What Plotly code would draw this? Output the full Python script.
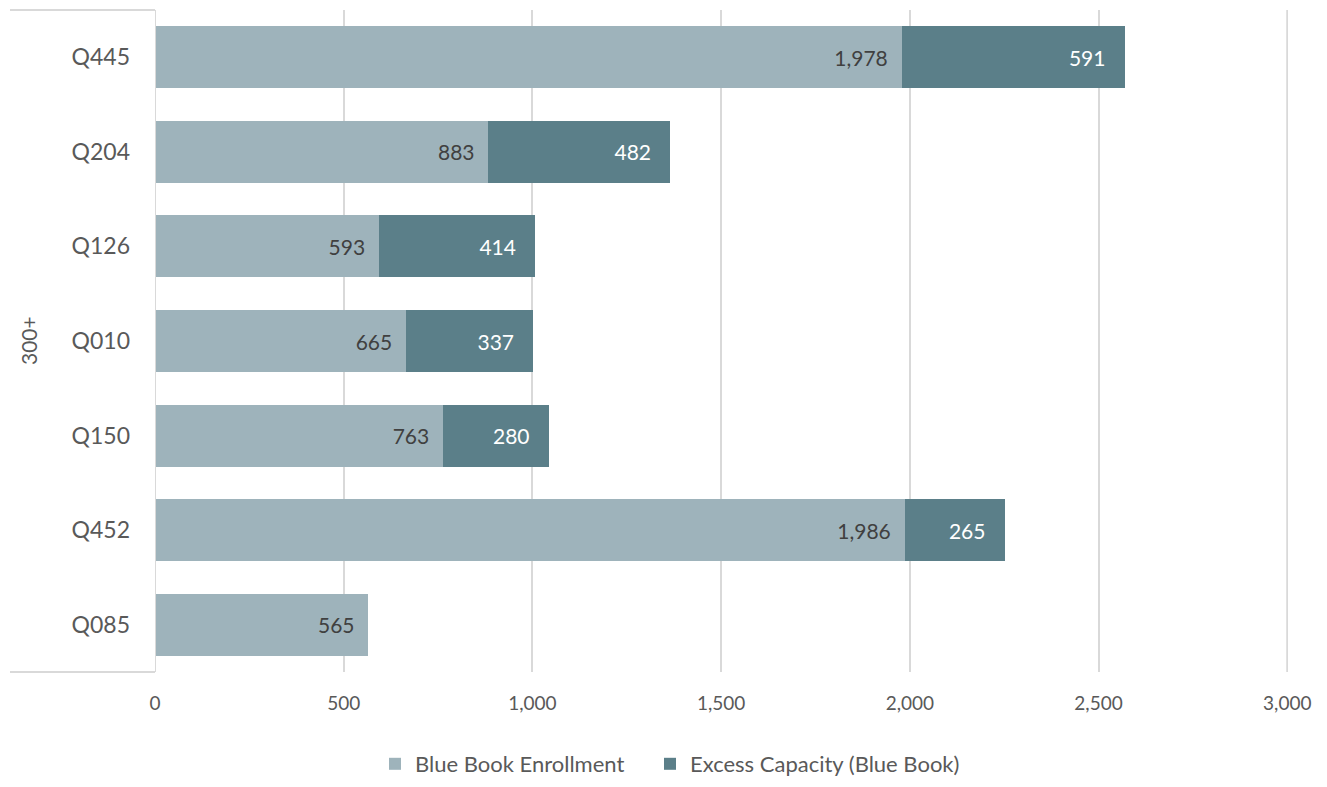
import plotly.graph_objects as go

categories = ["Q445", "Q204", "Q126", "Q010", "Q150", "Q452", "Q085"]
enrollment = [1978, 883, 593, 665, 763, 1986, 565]
excess = [591, 482, 414, 337, 280, 265, None]
group_label = "300+"
x_ticks = [0, 500, 1000, 1500, 2000, 2500, 3000]

FONT = "Lato, 'Open Sans', sans-serif"
NB = "\u00a0"

fig = go.Figure()
fig.add_trace(go.Bar(
    y=categories, x=enrollment, orientation="h", name="Blue Book Enrollment",
    marker=dict(color="#9eb3bb", line=dict(width=0)),
    texttemplate="%{x:,}" + NB * 2, textposition="inside", insidetextanchor="end",
    textfont=dict(color="#404040", size=21, family=FONT),
    hoverinfo="x+name", legend="legend",
))
fig.add_trace(go.Bar(
    y=categories, x=excess, orientation="h", name="Excess Capacity (Blue Book)",
    marker=dict(color="#5b7f89", line=dict(width=0)),
    texttemplate="%{x:,}" + NB * 3, textposition="inside", insidetextanchor="end",
    textfont=dict(color="white", size=21, family=FONT),
    hoverinfo="x+name", legend="legend2",
))

# page body has an 8px margin, so figure is shifted by 8px
W, H = 1311, 771
L, R, T, B = 147, 31, 2, 107
PW = W - L - R
PH = H - T - B


def px_x(s):
    return (s - 8 - L) / PW


def px_y(s):
    return -((s - 8) - (H - B)) / PH


leg_common = dict(
    orientation="h", xanchor="left", yanchor="middle", y=px_y(764),
    font=dict(size=22, color="#595959"),
)

fig.update_layout(
    width=W, height=H,
    barmode="stack", bargap=0.345,
    plot_bgcolor="white", paper_bgcolor="white",
    margin=dict(l=L, r=R, t=T, b=B, autoexpand=False),
    font=dict(family=FONT, color="#595959"),
    xaxis=dict(
        range=[0, 3002], tickvals=x_ticks, tickformat=",",
        showgrid=True, gridcolor="#d9d9d9", gridwidth=2,
        zeroline=False, showline=False, ticks="",
        tickfont=dict(size=19, color="#595959"), ticklabelstandoff=18,
    ),
    yaxis=dict(
        categoryorder="array", categoryarray=categories[::-1],
        showgrid=False, zeroline=False, showline=False, ticks="",
        tickfont=dict(size=23, color="#595959"), ticklabelstandoff=24,
    ),
    legend=dict(x=px_x(375), **leg_common),
    legend2=dict(x=px_x(650), **leg_common),
    showlegend=True,
)

line_style = dict(color="#d9d9d9", width=2)
fig.add_shape(type="line", xref="x", yref="paper", x0=0, x1=0, y0=0, y1=1, line=line_style)
fig.add_shape(type="line", xref="x", yref="paper", x0=3000, x1=3000, y0=0, y1=1, line=line_style, layer="below")
fig.add_shape(type="line", xref="paper", yref="paper", x0=-145 / PW, x1=0, y0=1, y1=1, line=line_style)
fig.add_shape(type="line", xref="paper", yref="paper", x0=-145 / PW, x1=0, y0=0, y1=0, line=line_style)

fig.add_annotation(
    text=group_label, xref="paper", yref="paper", x=-127 / PW, y=0.5,
    showarrow=False, textangle=-90, font=dict(size=21, color="#595959"),
    xanchor="center", yanchor="middle",
)

fig.write_html("out.html")
